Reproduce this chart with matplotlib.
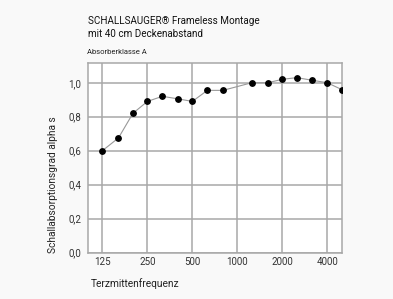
import matplotlib
matplotlib.use("Agg")
import matplotlib.pyplot as plt
from matplotlib.ticker import FixedLocator, FixedFormatter, NullLocator

plt.rcParams['font.family'] = ['Roboto', 'DejaVu Sans']

# third-octave centre frequencies and absorption coefficients
freqs = [125, 160, 200, 250, 315, 400, 500, 630, 800, 1250, 1600, 2000, 2500, 3150, 4000, 5000]
alpha = [0.60, 0.675, 0.82, 0.89, 0.92, 0.905, 0.89, 0.955, 0.955, 1.00, 1.00, 1.02, 1.03, 1.015, 1.00, 0.96]

xticks = [125, 250, 500, 1000, 2000, 4000]
xtick_labels = ['125', '250', '500', '1000', '2000', '4000']
yticks = [0.0, 0.2, 0.4, 0.6, 0.8, 1.0]
ytick_labels = ['0,0', '0,2', '0,4', '0,6', '0,8', '1,0']

bg = '#f9f9f9'
fig = plt.figure(figsize=(3.93, 2.99), dpi=100, facecolor=bg)
ax = fig.add_axes([88/393, 1 - 252.5/299, (341.7-88)/393, (252.5-62.7)/299])
ax.set_facecolor('white')

ax.plot(freqs, alpha, color='#999999', lw=0.8, zorder=3)
ax.plot(freqs, alpha, 'o', color='black', ms=3.9, zorder=4)

ax.set_xscale('log')
ax.set_xlim(100, 5000)
ax.set_ylim(0, 1.118)
ax.xaxis.set_major_locator(FixedLocator(xticks))
ax.xaxis.set_major_formatter(FixedFormatter(xtick_labels))
ax.xaxis.set_minor_locator(NullLocator())
ax.set_yticks(yticks)
ax.set_yticklabels(ytick_labels)
ax.tick_params(length=0, labelsize=7, colors='#333333')
ax.tick_params(axis='x', pad=3.5)
ax.tick_params(axis='y', pad=5)
ax.grid(True, color='#a8a8a8', lw=1.1)
ax.set_axisbelow(True)
for s in ax.spines.values():
    s.set_color('#a8a8a8')
    s.set_linewidth(1.1)

fig.text(52.5/393, 1 - 253/299, 'Schallabsorptionsgrad alpha s', rotation=90, rotation_mode='anchor',
         fontsize=7.3, color='#222222', ha='left', va='center')
fig.text(91/393, 1 - 284/299, 'Terzmittenfrequenz', fontsize=7.3, color='#222222', ha='left', va='center')

fig.text(88/393, 1 - 27.5/299, 'SCHALLSAUGER® Frameless Montage\nmit 40 cm Deckenabstand',
         fontsize=7.1, color='#111111', va='center', ha='left', linespacing=1.35)
fig.text(87/393, 1 - 51.5/299, 'Absorberklasse A', fontsize=5.5, color='#222222', va='center', ha='left')

plt.savefig('out.png', dpi=100, facecolor=bg)
